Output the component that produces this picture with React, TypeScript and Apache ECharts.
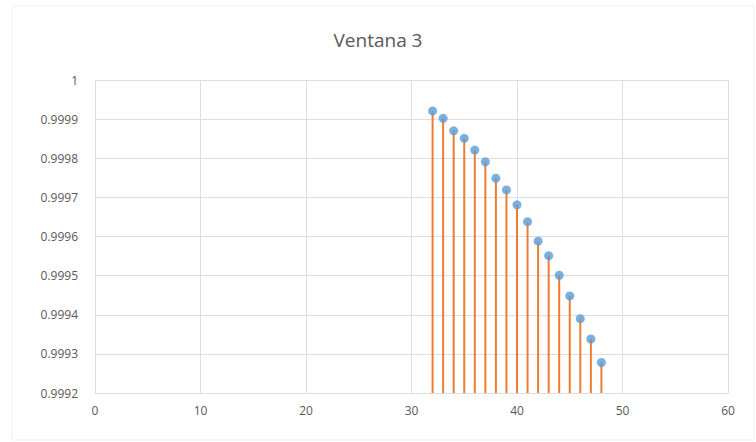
import React, { useEffect, useRef } from "react";
import * as echarts from "echarts";

// Window positions (x) and their values (y)
const positions = [32, 33, 34, 35, 36, 37, 38, 39, 40, 41, 42, 43, 44, 45, 46, 47, 48];
const values = [
  0.999921, 0.999902, 0.99987, 0.999851, 0.999821, 0.999791, 0.999749, 0.999719,
  0.999681, 0.999638, 0.999588, 0.999551, 0.999501, 0.999448, 0.99939, 0.999338,
  0.999278,
];
const title = "Ventana 3";
const xMin = 0;
const xMax = 60;
const xStep = 10;
const yMin = 0.9992;
const yMax = 1;
const yStep = 0.0001;

const FONT = "'Open Sans', 'Liberation Sans', sans-serif";
const TEXT_COLOR = "#595959";
const GRID_COLOR = "#dedede";

export default function App() {
  const ref = useRef<HTMLDivElement>(null);

  useEffect(() => {
    if (!ref.current) return;
    const chart = echarts.init(ref.current, undefined, { renderer: "svg" });
    const points = positions.map((x, i) => [x, values[i]]);

    chart.setOption({
      animation: false,
      backgroundColor: "#ffffff",
      title: {
        text: title,
        left: "center",
        top: 25,
        textStyle: { fontFamily: FONT, fontSize: 19, fontWeight: "normal", color: TEXT_COLOR },
      },
      graphic: [
        {
          type: "rect",
          shape: { x: 12, y: 6, width: 742, height: 434 },
          style: { fill: "none", stroke: "#f0f0f0", lineWidth: 1 },
          silent: true,
        },
      ],
      grid: { left: 95, right: 28, top: 80, bottom: 49 },
      xAxis: {
        type: "value",
        min: xMin,
        max: xMax,
        interval: xStep,
        axisLine: { show: true, lineStyle: { color: GRID_COLOR } },
        axisTick: { show: false },
        splitLine: { show: true, lineStyle: { color: GRID_COLOR } },
        axisLabel: { fontFamily: FONT, fontSize: 12, color: TEXT_COLOR, margin: 11 },
      },
      yAxis: {
        type: "value",
        min: yMin,
        max: yMax,
        interval: yStep,
        axisLine: { show: false },
        axisTick: { show: false },
        splitLine: { show: true, lineStyle: { color: GRID_COLOR } },
        axisLabel: {
          fontFamily: FONT,
          fontSize: 12,
          color: TEXT_COLOR,
          margin: 17,
          formatter: (v: number) => String(parseFloat(v.toFixed(4))),
        },
      },
      series: [
        {
          type: "custom",
          data: points,
          encode: { x: 0, y: 1 },
          z: 2,
          renderItem: (_params: any, api: any) => {
            const top = api.coord([api.value(0), api.value(1)]);
            const base = api.coord([api.value(0), yMin]);
            return {
              type: "line",
              shape: { x1: top[0], y1: top[1], x2: base[0], y2: base[1] },
              style: { stroke: "#ED7D31", lineWidth: 2 },
            };
          },
        },
        {
          type: "scatter",
          data: points,
          symbol: "circle",
          symbolSize: 9,
          z: 3,
          itemStyle: { color: "#5B9BD5" },
        },
      ],
    });

    return () => chart.dispose();
  }, []);

  return (
    <div
      ref={ref}
      style={{ position: "fixed", left: 0, top: 0, width: 756, height: 442 }}
    />
  );
}
